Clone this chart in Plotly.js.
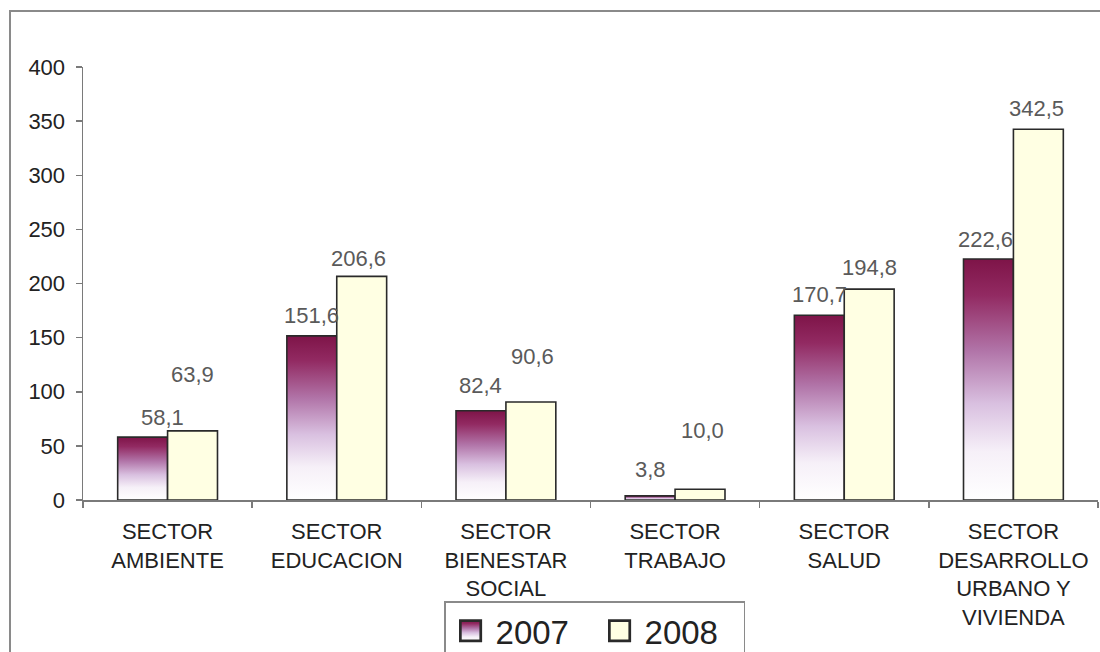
<!DOCTYPE html>
<html>
<head>
<meta charset="utf-8">
<script src="https://cdn.plot.ly/plotly-3.0.1.min.js"></script>
<style>
  html, body { margin: 0; padding: 0; background: #ffffff; }
  #wrap { position: relative; width: 1100px; height: 652px; overflow: hidden; }
  #chart { width: 1100px; height: 652px; }
  #frame { position: absolute; left: 9px; top: 10px; width: 1200px; height: 800px;
           border-left: 2px solid #8a8a8a; border-top: 2px solid #8a8a8a; pointer-events: none; }
</style>
</head>
<body>
<div id="wrap">
  <div id="chart"></div>
  <div id="frame"></div>
</div>
<script>
// ---- data ----
const categories = [
  "SECTOR<br>AMBIENTE",
  "SECTOR<br>EDUCACION",
  "SECTOR<br>BIENESTAR<br>SOCIAL",
  "SECTOR<br>TRABAJO",
  "SECTOR<br>SALUD",
  "SECTOR<br>DESARROLLO<br>URBANO Y<br>VIVIENDA"
];
const values2007 = [58.1, 151.6, 82.4, 3.8, 170.7, 222.6];
const values2008 = [63.9, 206.6, 90.6, 10.0, 194.8, 342.5];
const seriesNames = ["2007", "2008"];
const yTicks = [0, 50, 100, 150, 200, 250, 300, 350, 400];

// label styling (pixel lift above bar top, horizontal nudge)
const lift2007 = [20, 20, 25, 26, 21, 20];
const lift2008 = [56, 18, 45, 59, 22, 21];
const nudge2007 = [20, 0, 0, 0, 0, -3];
const nudge2008 = [0, -3, 2, 2, 0, -2];

const fmt = v => v.toFixed(1).replace(".", ",");
const FONT = "Liberation Sans, Arial, sans-serif";

const traces = [
  {
    type: "bar", name: seriesNames[0], x: categories, y: values2007,
    marker: { color: "#a0508a", line: { color: "#2a2a2a", width: 1.6 } },
    hoverinfo: "none"
  },
  {
    type: "bar", name: seriesNames[1], x: categories, y: values2008,
    marker: { color: "#ffffe3", line: { color: "#2a2a2a", width: 1.6 } },
    hoverinfo: "none"
  }
];

const annotations = [];
categories.forEach((c, i) => {
  annotations.push({
    x: c, y: values2007[i], xref: "x", yref: "y",
    text: fmt(values2007[i]), showarrow: false,
    xshift: -25 + nudge2007[i], yshift: lift2007[i], yanchor: "middle",
    font: { family: FONT, size: 22, color: "#5a5a5a" }
  });
  annotations.push({
    x: c, y: values2008[i], xref: "x", yref: "y",
    text: fmt(values2008[i]), showarrow: false,
    xshift: 25 + nudge2008[i], yshift: lift2008[i], yanchor: "middle",
    font: { family: FONT, size: 22, color: "#5a5a5a" }
  });
});

const layout = {
  width: 1100, height: 652,
  margin: { l: 83, r: 2, t: 67, b: 152, autoexpand: false },
  paper_bgcolor: "rgba(0,0,0,0)", plot_bgcolor: "rgba(0,0,0,0)",
  font: { family: FONT, color: "#222222", size: 22 },
  barmode: "group", bargap: 0.41, bargroupgap: 0,
  showlegend: true,
  legend: {
    orientation: "h", x: 0.504, xanchor: "center", y: -0.234, yanchor: "top",
    font: { family: FONT, size: 33, color: "#222222" },
    bordercolor: "#8a8a8a", borderwidth: 1.5, bgcolor: "#ffffff",
    traceorder: "normal", itemwidth: 40, entrywidth: 94, entrywidthmode: "pixels"
  },
  xaxis: {
    type: "category", range: [-0.5, 5.5],
    showline: true, linecolor: "#7a7a7a", linewidth: 1.5,
    ticks: "outside", tickson: "boundaries", ticklen: 6, tickcolor: "#7a7a7a", tickwidth: 1.5,
    showgrid: false, zeroline: false, ticklabelstandoff: 11,
    tickfont: { family: FONT, size: 22, color: "#222222" }
  },
  yaxis: {
    range: [0, 400], tickvals: yTicks, ticktext: yTicks.map(String),
    showline: true, linecolor: "#7a7a7a", linewidth: 1.5,
    ticks: "outside", ticklen: 6, tickcolor: "#7a7a7a", tickwidth: 1.5,
    showgrid: false, zeroline: false, ticklabelstandoff: 6,
    tickfont: { family: FONT, size: 22, color: "#222222" }
  },
  annotations: annotations
};

Plotly.newPlot("chart", traces, layout, { staticPlot: true, displayModeBar: false }).then(gd => {
  const svgNS = "http://www.w3.org/2000/svg";
  const svg = gd.querySelector(".main-svg");
  let defs = svg.querySelector("defs");
  if (!defs) { defs = document.createElementNS(svgNS, "defs"); svg.insertBefore(defs, svg.firstChild); }
  const grad = document.createElementNS(svgNS, "linearGradient");
  grad.setAttribute("id", "grad2007");
  grad.setAttribute("x1", "0"); grad.setAttribute("y1", "0");
  grad.setAttribute("x2", "0"); grad.setAttribute("y2", "1");
  [[0, "#7e1448"], [0.15, "#922a62"], [0.38, "#b174a8"], [0.6, "#d9c0e0"], [0.8, "#f6f0f8"], [1, "#ffffff"]]
    .forEach(([o, c]) => {
      const s = document.createElementNS(svgNS, "stop");
      s.setAttribute("offset", o); s.setAttribute("stop-color", c);
      grad.appendChild(s);
    });
  defs.appendChild(grad);
  const barTraces = gd.querySelectorAll(".barlayer .trace");
  if (barTraces[0]) barTraces[0].querySelectorAll("path").forEach(p => { p.style.fill = "url(#grad2007)"; });
  const legendTraces = gd.querySelectorAll(".legend .traces");
  legendTraces.forEach((t, i) => {
    t.querySelectorAll(".legendpoints path").forEach(p => {
      const tr = p.getAttribute("transform") || "";
      p.setAttribute("transform", tr + " scale(1.7)");
      if (i === 0) p.style.fill = "url(#grad2007)";
    });
  });
});
</script>
</body>
</html>
